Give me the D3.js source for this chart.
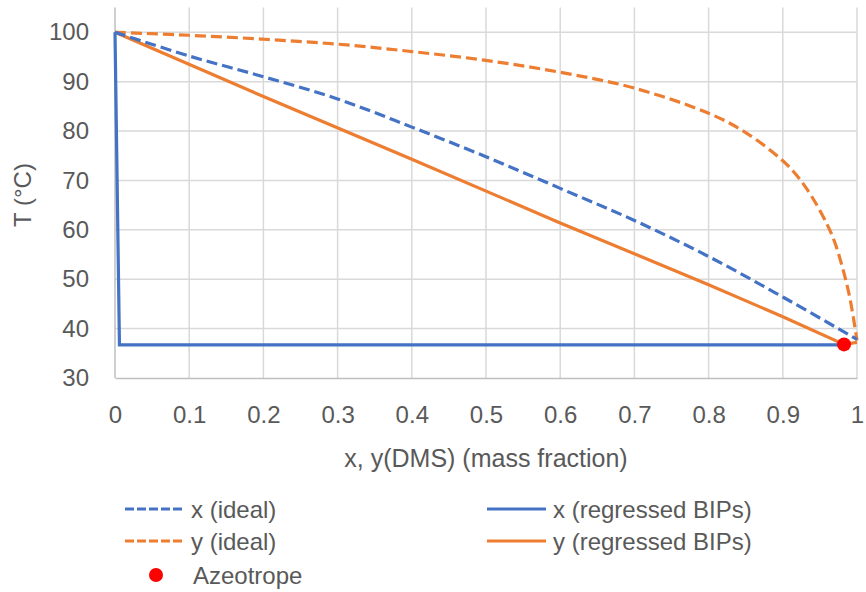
<!DOCTYPE html>
<html>
<head>
<meta charset="utf-8">
<script src="https://cdn.jsdelivr.net/npm/d3@7"></script>
<style>
  body { margin: 0; background: #fff; }
  text { font-family: "Liberation Sans", Arial, sans-serif; fill: #595959; }
</style>
</head>
<body>
<div id="chart"></div>
<script>
var width = 866,
    height = 592;

// x (ideal)
var xIdealX = [0, 0.1, 0.2, 0.3, 0.4, 0.5, 0.6, 0.7, 0.8, 0.9, 1.0];
var xIdealT = [100, 95.2, 91.0, 86.5, 80.8, 74.8, 68.4, 61.9, 54.6, 46.4, 37.8];
// y (ideal)
var yIdealX = [0, 0.1, 0.2, 0.3, 0.4, 0.5, 0.6, 0.7, 0.8, 0.85, 0.9, 0.92, 0.94, 0.96, 0.97, 0.98, 0.99, 1.0];
var yIdealT = [100, 99.4, 98.6, 97.6, 96.1, 94.3, 91.9, 88.7, 83.6, 79.7, 74.0, 70.8, 66.5, 61.0, 57.5, 52.6, 46.5, 37.6];
// x (regressed BIPs)
var xRegX = [0, 0.006, 0.9825];
var xRegT = [100, 36.7, 36.7];
// y (regressed BIPs)
var yRegX = [0, 0.2, 0.4, 0.6, 0.8, 0.9, 0.9825, 1.0];
var yRegT = [100, 87.0, 74.3, 61.4, 48.9, 42.4, 36.8, 37.2];
// azeotrope
var azX = [0.9825];
var azT = [36.8];

var xTicks = [0, 0.1, 0.2, 0.3, 0.4, 0.5, 0.6, 0.7, 0.8, 0.9, 1];
var yTicks = [30, 40, 50, 60, 70, 80, 90, 100];

var blue = "#4472C4", orange = "#ED7D31";

var svg = d3.select("#chart").append("svg")
  .attr("width", width)
  .attr("height", height);

var x = d3.scaleLinear().domain([0, 1]).range([115, 857]);
var y = d3.scaleLinear().domain([30, 105]).range([378, 7.6]);

// gridlines
var grid = svg.append("g");
grid.selectAll(".vg")
  .data(xTicks.slice(1))
  .enter().append("line")
  .attr("x1", function(d) { return x(d); })
  .attr("x2", function(d) { return x(d); })
  .attr("y1", y(30)).attr("y2", y(105))
  .attr("stroke", "#d9d9d9").attr("stroke-width", 1.5);
grid.selectAll(".hg")
  .data(yTicks.slice(1))
  .enter().append("line")
  .attr("x1", x(0)).attr("x2", x(1))
  .attr("y1", function(d) { return y(d); })
  .attr("y2", function(d) { return y(d); })
  .attr("stroke", "#d9d9d9").attr("stroke-width", 1.5);

// axes
var xAxis = d3.axisBottom(x).tickValues(xTicks).tickSize(0).tickPadding(28)
  .tickFormat(function(d) { return d3.format("")(d); });
var yAxis = d3.axisLeft(y).tickValues(yTicks).tickSize(0).tickPadding(26);

var gx = svg.append("g").attr("transform", "translate(0," + y(30) + ")").call(xAxis);
var gy = svg.append("g").attr("transform", "translate(" + x(0) + ",0)").call(yAxis);
[gx, gy].forEach(function(g) {
  g.select(".domain").attr("stroke", "#bfbfbf").attr("stroke-width", 1.5);
  g.selectAll("text").style("font-size", "24px").attr("fill", "#595959");
});
gy.select(".domain").attr("d", "M0," + y(30) + "V" + y(105));

// series
function series(xs, ts) {
  return xs.map(function(d, i) { return [d, ts[i]]; });
}
var smooth = d3.line()
  .x(function(d) { return x(d[0]); })
  .y(function(d) { return y(d[1]); })
  .curve(d3.curveCatmullRom.alpha(0.5));
var straight = d3.line()
  .x(function(d) { return x(d[0]); })
  .y(function(d) { return y(d[1]); });

var lines = [
  { data: series(yRegX, yRegT), color: orange, dash: null, gen: straight },
  { data: series(xRegX, xRegT), color: blue, dash: null, gen: straight },
  { data: series(yIdealX, yIdealT), color: orange, dash: "11,5", gen: smooth },
  { data: series(xIdealX, xIdealT), color: blue, dash: "11,5", gen: smooth }
];
lines.forEach(function(l) {
  svg.append("path")
    .attr("d", l.gen(l.data))
    .attr("fill", "none")
    .attr("stroke", l.color)
    .attr("stroke-width", 3.2)
    .attr("stroke-dasharray", l.dash);
});

svg.selectAll(".az")
  .data(series(azX, azT))
  .enter().append("circle")
  .attr("cx", function(d) { return x(d[0]); })
  .attr("cy", function(d) { return y(d[1]); })
  .attr("r", 7)
  .attr("fill", "#ff0000");

// axis titles
svg.append("text")
  .attr("x", 486).attr("y", 467)
  .attr("text-anchor", "middle")
  .style("font-size", "25px")
  .text("x, y(DMS) (mass fraction)");
svg.append("text")
  .attr("transform", "translate(31,195) rotate(-90)")
  .attr("text-anchor", "middle")
  .style("font-size", "24px")
  .text("T (°C)");

// legend
var legendItems = [
  { label: "x (ideal)", color: blue, dash: "9,3", lx: 125, ly: 509 },
  { label: "x (regressed BIPs)", color: blue, dash: null, lx: 487, ly: 509 },
  { label: "y (ideal)", color: orange, dash: "9,3", lx: 125, ly: 541 },
  { label: "y (regressed BIPs)", color: orange, dash: null, lx: 487, ly: 541 }
];
var legend = svg.append("g");
legendItems.forEach(function(d) {
  legend.append("line")
    .attr("x1", d.lx).attr("x2", d.lx + 59)
    .attr("y1", d.ly).attr("y2", d.ly)
    .attr("stroke", d.color).attr("stroke-width", 3.2)
    .attr("stroke-dasharray", d.dash);
  legend.append("text")
    .attr("x", d.lx + 66).attr("y", d.ly + 9)
    .style("font-size", "24px")
    .text(d.label);
});
legend.append("circle")
  .attr("cx", 156).attr("cy", 575).attr("r", 7).attr("fill", "#ff0000");
legend.append("text")
  .attr("x", 193).attr("y", 584)
  .style("font-size", "24px")
  .text("Azeotrope");
</script>
</body>
</html>
